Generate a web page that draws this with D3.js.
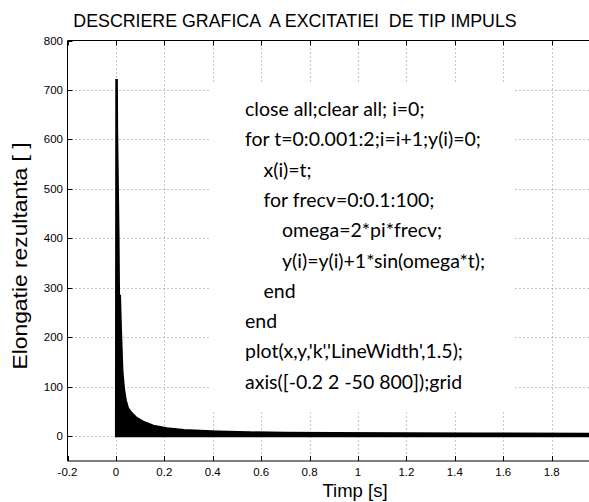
<!DOCTYPE html>
<html><head><meta charset="utf-8">
<script src="https://cdn.jsdelivr.net/npm/d3@7"></script>
<style>
html,body{margin:0;padding:0;background:#fff;}
svg{display:block;}
text{white-space:pre;}
</style></head>
<body>
<svg id="chart" width="589" height="502"></svg>
<script>
// ---- data ----
const envT = [0, 0.0015, 0.004, 0.005, 0.007, 0.009, 0.011, 0.013, 0.017, 0.021, 0.027, 0.034, 0.041, 0.05, 0.065, 0.086, 0.113, 0.155, 0.21, 0.28, 0.35, 0.42, 0.55, 0.7, 0.9, 1.2, 1.5, 2.0];
const envY = [0, 720, 720, 625, 550, 475, 400, 284, 284, 215, 131, 94, 73, 57, 47, 37, 29.5, 21.5, 16, 12.7, 11, 9.5, 8, 7, 6.5, 6, 5.5, 5];
const xTicks = [-0.2, 0, 0.2, 0.4, 0.6, 0.8, 1, 1.2, 1.4, 1.6, 1.8];
const xTickLabels = ["-0.2", "0", "0.2", "0.4", "0.6", "0.8", "1", "1.2", "1.4", "1.6", "1.8"];
const yTicks = [0, 100, 200, 300, 400, 500, 600, 700, 800];
const yTickLabels = ["0", "100", "200", "300", "400", "500", "600", "700", "800"];
const titleText = "DESCRIERE GRAFICA  A EXCITATIEI  DE TIP IMPULS";
const xLabelText = "Timp [s]";
const yLabelText = "Elongatie rezultanta [ ]";
const codeLines = [
  {indent: 0, text: "close all;clear all; i=0;"},
  {indent: 0, text: "for t=0:0.001:2;i=i+1;y(i)=0;"},
  {indent: 1, text: "x(i)=t;"},
  {indent: 1, text: "for frecv=0:0.1:100;"},
  {indent: 2, text: "omega=2*pi*frecv;"},
  {indent: 2, text: "y(i)=y(i)+1*sin(omega*t);"},
  {indent: 1, text: "end"},
  {indent: 0, text: "end"},
  {indent: 0, text: "plot(x,y,'k','LineWidth',1.5);"},
  {indent: 0, text: "axis([-0.2 2 -50 800]);grid"}
];

// ---- layout ----
const svg = d3.select("#chart");
const L = 67.5, R = 600.1, T = 40.5, B = 461;
const x = d3.scaleLinear().domain([-0.2, 2]).range([L, R]);
const y = d3.scaleLinear().domain([-50, 800]).range([B, T]);
const sans = "'Liberation Sans', Arial, sans-serif";

svg.append("rect").attr("width", 589).attr("height", 502).attr("fill", "#fff");

// grid
const grid = svg.append("g").attr("stroke", "#8a8a8a").attr("stroke-width", 1).attr("stroke-dasharray", "1,3");
grid.selectAll("line.v").data(xTicks.slice(1)).join("line")
  .attr("x1", d => Math.round(x(d)) + 0.5).attr("x2", d => Math.round(x(d)) + 0.5)
  .attr("y1", T).attr("y2", B);
grid.selectAll("line.h").data(yTicks.slice(0, -1)).join("line")
  .attr("x1", L).attr("x2", R)
  .attr("y1", d => Math.round(y(d)) + 0.5).attr("y2", d => Math.round(y(d)) + 0.5);

// data
const area = d3.area()
  .x((d, i) => x(envT[i]))
  .y0(y(0))
  .y1((d, i) => y(envY[i]));
svg.append("path").datum(envY).attr("d", area)
  .attr("fill", "#000").attr("stroke", "#000").attr("stroke-width", 2).attr("stroke-linejoin", "miter");

// code annotation box
svg.append("rect").attr("x", 210).attr("y", 84).attr("width", 305).attr("height", 327).attr("fill", "#fff");
const codeFont = "Lato, 'Open Sans', sans-serif";
const codeG = svg.append("g").attr("font-family", codeFont).attr("fill", "#000");
const probe = codeG.append("text").attr("font-size", 100).text(codeLines[1].text);
const w100 = probe.node().getComputedTextLength();
probe.remove();
const codeSize = 100 * 236 / w100;
codeG.selectAll("text").data(codeLines).join("text")
  .attr("x", d => 245 + d.indent * 18.5)
  .attr("y", (d, i) => 116 + i * 30.3)
  .attr("font-size", codeSize)
  .text(d => d.text);

// axes lines
const ax = svg.append("g").attr("stroke", "#000").attr("stroke-width", 1).attr("fill", "none");
ax.append("line").attr("x1", L).attr("x2", 589).attr("y1", T).attr("y2", T);
ax.append("line").attr("x1", L).attr("x2", 589).attr("y1", B).attr("y2", B);
ax.append("line").attr("x1", L).attr("x2", L).attr("y1", T).attr("y2", B);
ax.selectAll("line.xb").data(xTicks).join("line")
  .attr("x1", d => Math.round(x(d)) + 0.5).attr("x2", d => Math.round(x(d)) + 0.5)
  .attr("y1", B).attr("y2", B - 5);
ax.selectAll("line.xt").data(xTicks).join("line")
  .attr("x1", d => Math.round(x(d)) + 0.5).attr("x2", d => Math.round(x(d)) + 0.5)
  .attr("y1", T).attr("y2", T + 5);
ax.selectAll("line.yl").data(yTicks).join("line")
  .attr("x1", L).attr("x2", L + 5)
  .attr("y1", d => Math.round(y(d)) + 0.5).attr("y2", d => Math.round(y(d)) + 0.5);

// tick labels
svg.append("g").attr("font-family", sans).attr("font-size", 11.5).attr("text-anchor", "middle")
  .selectAll("text").data(xTicks).join("text")
  .attr("x", d => x(d)).attr("y", 476).text((d, i) => xTickLabels[i]);
svg.append("g").attr("font-family", sans).attr("font-size", 11.5).attr("text-anchor", "end")
  .selectAll("text").data(yTicks).join("text")
  .attr("x", 63).attr("y", d => y(d) + 4).text((d, i) => yTickLabels[i]);

// title and axis labels
svg.append("text").attr("x", 295).attr("y", 27).attr("text-anchor", "middle")
  .attr("font-family", sans).attr("font-size", 17.8).text(titleText);
svg.append("text").attr("x", 355).attr("y", 497).attr("text-anchor", "middle")
  .attr("font-family", sans).attr("font-size", 18.5).text(xLabelText);
svg.append("text").attr("transform", "translate(27,256) rotate(-90)").attr("text-anchor", "middle")
  .attr("font-family", sans).attr("font-size", 20)
  .attr("textLength", 227).attr("lengthAdjust", "spacingAndGlyphs").text(yLabelText);
</script>
</body></html>
